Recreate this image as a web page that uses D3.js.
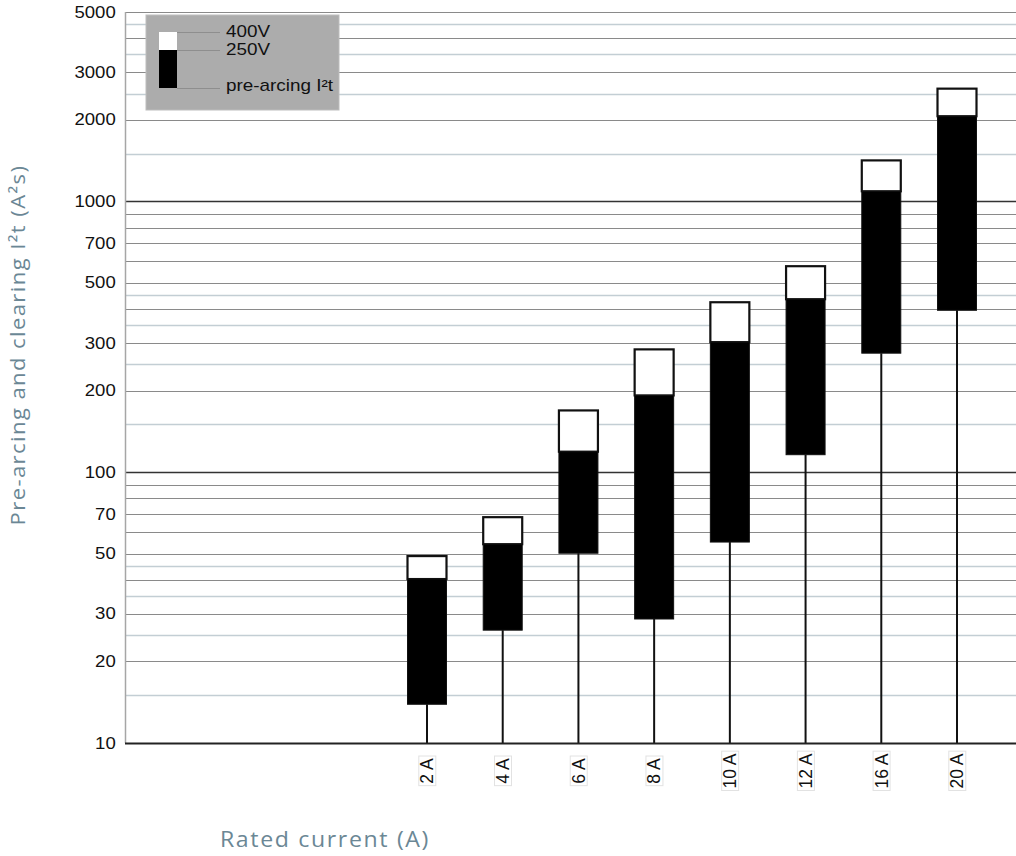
<!DOCTYPE html>
<html>
<head>
<meta charset="utf-8">
<script src="https://cdn.jsdelivr.net/npm/d3@7"></script>
<style>
  html, body { margin: 0; padding: 0; background: #fff; }
  svg { display: block; }
</style>
</head>
<body>
<svg id="chart" width="1016" height="856"></svg>
<script>
// ---- data ----
const categories = ["2 A", "4 A", "6 A", "8 A", "10 A", "12 A", "16 A", "20 A"];
const preArcing = [13.9, 26.1, 50.2, 28.7, 55.2, 116, 275, 396];
const clearing250V = [40.3, 54.2, 119, 192, 302, 435, 1089, 2061];
const clearing400V = [49.0, 68.2, 169, 284, 424, 576, 1416, 2606];
const yTicks = [10, 20, 30, 50, 70, 100, 200, 300, 500, 700, 1000, 2000, 3000, 5000];
const gridDark = [20, 30, 40, 50, 60, 70, 80, 90, 200, 300, 400, 500, 600, 700, 800, 900, 2000, 3000, 4000, 5000];
const gridLight = [15, 25, 35, 45, 150, 250, 350, 450, 1500, 2500, 3500, 4500];
const gridBlack = [100, 1000];
const legendLabels = ["400V", "250V", "pre-arcing I²t"];

(function () {
// ---- layout ----
const svg = d3.select("#chart");
const plotLeft = 125, plotRight = 1016, plotTop = 12, plotBottom = 743;

const y = d3.scaleLog().domain([10, 5000]).range([plotBottom, plotTop]);
const x = d3.scalePoint().domain(categories).range([427, 957]);
const barW = 39;
const stretch = 1.16;

const titleColor = "#6b8795";
const tickFont = "'Liberation Sans', Arial, sans-serif";

// gridlines
const grid = svg.append("g");
function gridLines(vals, color, w) {
  grid.append("g").selectAll("line").data(vals).join("line")
    .attr("x1", plotLeft).attr("x2", plotRight)
    .attr("y1", d => Math.round(y(d)) + 0.5).attr("y2", d => Math.round(y(d)) + 0.5)
    .attr("stroke", color).attr("stroke-width", w);
}
gridLines(gridLight, "#c3ced4", 1.3);
gridLines(gridDark, "#8a8a8a", 1.1);
gridLines(gridBlack, "#333", 1.4);

// left axis line
svg.append("line")
  .attr("x1", plotLeft + 0.5).attr("x2", plotLeft + 0.5)
  .attr("y1", plotTop).attr("y2", plotBottom)
  .attr("stroke", "#a6a6a6").attr("stroke-width", 1.5);

// y tick labels
const yAxis = d3.axisLeft(y).tickValues(yTicks).tickFormat(d3.format("d")).tickSize(0).tickPadding(8);
const ya = svg.append("g").attr("transform", `translate(${plotLeft},0)`).call(yAxis);
ya.select(".domain").remove();
ya.selectAll("text").attr("font-family", tickFont).attr("font-size", 16).attr("fill", "#111")
  .attr("transform", `scale(${stretch},1)`);

// whiskers
const idx = d3.range(categories.length);
svg.append("g").selectAll("line").data(idx).join("line")
  .attr("x1", i => x(categories[i])).attr("x2", i => x(categories[i]))
  .attr("y1", i => y(preArcing[i])).attr("y2", plotBottom)
  .attr("stroke", "#111").attr("stroke-width", 2);

// bars: white 400V part
svg.append("g").selectAll("rect").data(idx).join("rect")
  .attr("x", i => x(categories[i]) - barW / 2)
  .attr("y", i => y(clearing400V[i]))
  .attr("width", barW)
  .attr("height", i => y(clearing250V[i]) - y(clearing400V[i]))
  .attr("fill", "#fff").attr("stroke", "#111").attr("stroke-width", 2.2);
// black 250V part
svg.append("g").selectAll("rect").data(idx).join("rect")
  .attr("x", i => x(categories[i]) - barW / 2)
  .attr("y", i => y(clearing250V[i]))
  .attr("width", barW)
  .attr("height", i => y(preArcing[i]) - y(clearing250V[i]))
  .attr("fill", "#000").attr("stroke", "#111").attr("stroke-width", 1);

// bottom axis line
svg.append("line")
  .attr("x1", plotLeft).attr("x2", plotRight)
  .attr("y1", plotBottom + 0.5).attr("y2", plotBottom + 0.5)
  .attr("stroke", "#222").attr("stroke-width", 2);

// x labels
const xl = svg.append("g").selectAll("g").data(categories).join("g")
  .attr("transform", d => `translate(${x(d)},771) rotate(-90)`);
xl.append("text")
  .attr("text-anchor", "middle").attr("dy", "0.36em")
  .attr("font-family", tickFont).attr("font-size", 17.5).attr("fill", "#111")
  .text(d => d)
  .each(function () {
    const bb = this.getBBox();
    d3.select(this.parentNode).insert("rect", "text")
      .attr("x", bb.x - 2).attr("y", bb.y + 1.5)
      .attr("width", bb.width + 4).attr("height", bb.height - 3)
      .attr("fill", "#fff").attr("stroke", "#e2e2e2").attr("stroke-width", 1);
  });

// legend
const lg = svg.append("g");
lg.append("rect").attr("x", 146).attr("y", 15).attr("width", 193).attr("height", 95)
  .attr("fill", "#acacac").attr("stroke", "#bdbdbd");
lg.append("rect").attr("x", 159).attr("y", 32).attr("width", 18).attr("height", 18).attr("fill", "#fff");
lg.append("rect").attr("x", 159).attr("y", 50).attr("width", 18).attr("height", 38).attr("fill", "#000");
const legY = [32, 50, 88];
lg.selectAll("line").data(legY).join("line")
  .attr("x1", 177).attr("x2", 220).attr("y1", d => d + 0.5).attr("y2", d => d + 0.5)
  .attr("stroke", "#8e8e8e").attr("stroke-width", 1);
const legBase = [37, 55, 91];
lg.selectAll("text").data(legendLabels).join("text")
  .attr("transform", (d, i) => `translate(226,${legBase[i]}) scale(${stretch + 0.02},1)`)
  .attr("font-family", tickFont).attr("font-size", 16).attr("fill", "#111")
  .text(d => d);

// axis titles
svg.append("text")
  .attr("transform", "translate(25,345) rotate(-90) scale(1.1,1)")
  .attr("text-anchor", "middle")
  .attr("font-family", "'Open Sans', sans-serif").attr("font-size", 20)
  .attr("fill", titleColor).attr("letter-spacing", 1.3)
  .text("Pre-arcing and clearing I²t (A²s)");
svg.append("text")
  .attr("transform", "translate(325,847) scale(1.1,1)")
  .attr("text-anchor", "middle")
  .attr("font-family", "'Open Sans', sans-serif").attr("font-size", 21)
  .attr("fill", titleColor).attr("letter-spacing", 1.5)
  .text("Rated current (A)");
})();
</script>
</body>
</html>
